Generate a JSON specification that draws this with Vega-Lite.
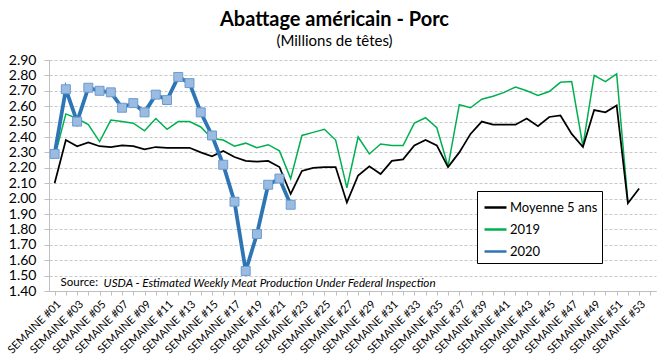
{
  "$schema": "https://vega.github.io/schema/vega-lite/v6.json",
  "width": 607,
  "height": 231,
  "autosize": {"type": "none"},
  "padding": {"left": 49, "top": 60, "right": 12, "bottom": 73},
  "background": "white",
  "title": {
    "text": "Abattage américain - Porc",
    "subtitle": "(Millions de têtes)",
    "anchor": "middle",
    "dx": -18,
    "font": "Lato",
    "fontSize": 20,
    "fontWeight": "bold",
    "color": "#000000",
    "subtitleFont": "Lato",
    "subtitleFontSize": 15,
    "subtitleColor": "#000000",
    "subtitlePadding": 4,
    "offset": 4
  },
  "config": {"view": {"stroke": null}, "font": "Lato"},
  "datasets": {
    "rows": [
      {"week": "SEMAINE #01", "series": "Moyenne 5 ans", "value": 2.10},
      {"week": "SEMAINE #02", "series": "Moyenne 5 ans", "value": 2.38},
      {"week": "SEMAINE #03", "series": "Moyenne 5 ans", "value": 2.34},
      {"week": "SEMAINE #04", "series": "Moyenne 5 ans", "value": 2.365},
      {"week": "SEMAINE #05", "series": "Moyenne 5 ans", "value": 2.34},
      {"week": "SEMAINE #06", "series": "Moyenne 5 ans", "value": 2.335},
      {"week": "SEMAINE #07", "series": "Moyenne 5 ans", "value": 2.345},
      {"week": "SEMAINE #08", "series": "Moyenne 5 ans", "value": 2.34},
      {"week": "SEMAINE #09", "series": "Moyenne 5 ans", "value": 2.32},
      {"week": "SEMAINE #10", "series": "Moyenne 5 ans", "value": 2.335},
      {"week": "SEMAINE #11", "series": "Moyenne 5 ans", "value": 2.33},
      {"week": "SEMAINE #12", "series": "Moyenne 5 ans", "value": 2.33},
      {"week": "SEMAINE #13", "series": "Moyenne 5 ans", "value": 2.33},
      {"week": "SEMAINE #14", "series": "Moyenne 5 ans", "value": 2.30},
      {"week": "SEMAINE #15", "series": "Moyenne 5 ans", "value": 2.275},
      {"week": "SEMAINE #16", "series": "Moyenne 5 ans", "value": 2.31},
      {"week": "SEMAINE #17", "series": "Moyenne 5 ans", "value": 2.27},
      {"week": "SEMAINE #18", "series": "Moyenne 5 ans", "value": 2.245},
      {"week": "SEMAINE #19", "series": "Moyenne 5 ans", "value": 2.24},
      {"week": "SEMAINE #20", "series": "Moyenne 5 ans", "value": 2.245},
      {"week": "SEMAINE #21", "series": "Moyenne 5 ans", "value": 2.205},
      {"week": "SEMAINE #22", "series": "Moyenne 5 ans", "value": 2.03},
      {"week": "SEMAINE #23", "series": "Moyenne 5 ans", "value": 2.18},
      {"week": "SEMAINE #24", "series": "Moyenne 5 ans", "value": 2.20},
      {"week": "SEMAINE #25", "series": "Moyenne 5 ans", "value": 2.205},
      {"week": "SEMAINE #26", "series": "Moyenne 5 ans", "value": 2.205},
      {"week": "SEMAINE #27", "series": "Moyenne 5 ans", "value": 1.975},
      {"week": "SEMAINE #28", "series": "Moyenne 5 ans", "value": 2.15},
      {"week": "SEMAINE #29", "series": "Moyenne 5 ans", "value": 2.21},
      {"week": "SEMAINE #30", "series": "Moyenne 5 ans", "value": 2.16},
      {"week": "SEMAINE #31", "series": "Moyenne 5 ans", "value": 2.245},
      {"week": "SEMAINE #32", "series": "Moyenne 5 ans", "value": 2.255},
      {"week": "SEMAINE #33", "series": "Moyenne 5 ans", "value": 2.345},
      {"week": "SEMAINE #34", "series": "Moyenne 5 ans", "value": 2.38},
      {"week": "SEMAINE #35", "series": "Moyenne 5 ans", "value": 2.345},
      {"week": "SEMAINE #36", "series": "Moyenne 5 ans", "value": 2.205},
      {"week": "SEMAINE #37", "series": "Moyenne 5 ans", "value": 2.30},
      {"week": "SEMAINE #38", "series": "Moyenne 5 ans", "value": 2.42},
      {"week": "SEMAINE #39", "series": "Moyenne 5 ans", "value": 2.50},
      {"week": "SEMAINE #40", "series": "Moyenne 5 ans", "value": 2.48},
      {"week": "SEMAINE #41", "series": "Moyenne 5 ans", "value": 2.48},
      {"week": "SEMAINE #42", "series": "Moyenne 5 ans", "value": 2.48},
      {"week": "SEMAINE #43", "series": "Moyenne 5 ans", "value": 2.52},
      {"week": "SEMAINE #44", "series": "Moyenne 5 ans", "value": 2.47},
      {"week": "SEMAINE #45", "series": "Moyenne 5 ans", "value": 2.53},
      {"week": "SEMAINE #46", "series": "Moyenne 5 ans", "value": 2.54},
      {"week": "SEMAINE #47", "series": "Moyenne 5 ans", "value": 2.42},
      {"week": "SEMAINE #48", "series": "Moyenne 5 ans", "value": 2.335},
      {"week": "SEMAINE #49", "series": "Moyenne 5 ans", "value": 2.575},
      {"week": "SEMAINE #50", "series": "Moyenne 5 ans", "value": 2.56},
      {"week": "SEMAINE #51", "series": "Moyenne 5 ans", "value": 2.605},
      {"week": "SEMAINE #52", "series": "Moyenne 5 ans", "value": 1.97},
      {"week": "SEMAINE #53", "series": "Moyenne 5 ans", "value": 2.065},
      {"week": "SEMAINE #01", "series": "2019", "value": 2.27},
      {"week": "SEMAINE #02", "series": "2019", "value": 2.55},
      {"week": "SEMAINE #03", "series": "2019", "value": 2.52},
      {"week": "SEMAINE #04", "series": "2019", "value": 2.48},
      {"week": "SEMAINE #05", "series": "2019", "value": 2.37},
      {"week": "SEMAINE #06", "series": "2019", "value": 2.51},
      {"week": "SEMAINE #07", "series": "2019", "value": 2.50},
      {"week": "SEMAINE #08", "series": "2019", "value": 2.49},
      {"week": "SEMAINE #09", "series": "2019", "value": 2.44},
      {"week": "SEMAINE #10", "series": "2019", "value": 2.52},
      {"week": "SEMAINE #11", "series": "2019", "value": 2.45},
      {"week": "SEMAINE #12", "series": "2019", "value": 2.50},
      {"week": "SEMAINE #13", "series": "2019", "value": 2.50},
      {"week": "SEMAINE #14", "series": "2019", "value": 2.465},
      {"week": "SEMAINE #15", "series": "2019", "value": 2.39},
      {"week": "SEMAINE #16", "series": "2019", "value": 2.38},
      {"week": "SEMAINE #17", "series": "2019", "value": 2.34},
      {"week": "SEMAINE #18", "series": "2019", "value": 2.36},
      {"week": "SEMAINE #19", "series": "2019", "value": 2.33},
      {"week": "SEMAINE #20", "series": "2019", "value": 2.35},
      {"week": "SEMAINE #21", "series": "2019", "value": 2.31},
      {"week": "SEMAINE #22", "series": "2019", "value": 2.13},
      {"week": "SEMAINE #23", "series": "2019", "value": 2.41},
      {"week": "SEMAINE #24", "series": "2019", "value": 2.43},
      {"week": "SEMAINE #25", "series": "2019", "value": 2.45},
      {"week": "SEMAINE #26", "series": "2019", "value": 2.38},
      {"week": "SEMAINE #27", "series": "2019", "value": 2.07},
      {"week": "SEMAINE #28", "series": "2019", "value": 2.40},
      {"week": "SEMAINE #29", "series": "2019", "value": 2.29},
      {"week": "SEMAINE #30", "series": "2019", "value": 2.355},
      {"week": "SEMAINE #31", "series": "2019", "value": 2.345},
      {"week": "SEMAINE #32", "series": "2019", "value": 2.345},
      {"week": "SEMAINE #33", "series": "2019", "value": 2.49},
      {"week": "SEMAINE #34", "series": "2019", "value": 2.525},
      {"week": "SEMAINE #35", "series": "2019", "value": 2.46},
      {"week": "SEMAINE #36", "series": "2019", "value": 2.21},
      {"week": "SEMAINE #37", "series": "2019", "value": 2.61},
      {"week": "SEMAINE #38", "series": "2019", "value": 2.59},
      {"week": "SEMAINE #39", "series": "2019", "value": 2.645},
      {"week": "SEMAINE #40", "series": "2019", "value": 2.665},
      {"week": "SEMAINE #41", "series": "2019", "value": 2.69},
      {"week": "SEMAINE #42", "series": "2019", "value": 2.725},
      {"week": "SEMAINE #43", "series": "2019", "value": 2.70},
      {"week": "SEMAINE #44", "series": "2019", "value": 2.67},
      {"week": "SEMAINE #45", "series": "2019", "value": 2.695},
      {"week": "SEMAINE #46", "series": "2019", "value": 2.755},
      {"week": "SEMAINE #47", "series": "2019", "value": 2.76},
      {"week": "SEMAINE #48", "series": "2019", "value": 2.34},
      {"week": "SEMAINE #49", "series": "2019", "value": 2.80},
      {"week": "SEMAINE #50", "series": "2019", "value": 2.76},
      {"week": "SEMAINE #51", "series": "2019", "value": 2.81},
      {"week": "SEMAINE #52", "series": "2019", "value": 1.98},
      {"week": "SEMAINE #01", "series": "2020", "value": 2.29},
      {"week": "SEMAINE #02", "series": "2020", "value": 2.71},
      {"week": "SEMAINE #03", "series": "2020", "value": 2.50},
      {"week": "SEMAINE #04", "series": "2020", "value": 2.72},
      {"week": "SEMAINE #05", "series": "2020", "value": 2.70},
      {"week": "SEMAINE #06", "series": "2020", "value": 2.69},
      {"week": "SEMAINE #07", "series": "2020", "value": 2.59},
      {"week": "SEMAINE #08", "series": "2020", "value": 2.62},
      {"week": "SEMAINE #09", "series": "2020", "value": 2.56},
      {"week": "SEMAINE #10", "series": "2020", "value": 2.675},
      {"week": "SEMAINE #11", "series": "2020", "value": 2.64},
      {"week": "SEMAINE #12", "series": "2020", "value": 2.79},
      {"week": "SEMAINE #13", "series": "2020", "value": 2.75},
      {"week": "SEMAINE #14", "series": "2020", "value": 2.56},
      {"week": "SEMAINE #15", "series": "2020", "value": 2.41},
      {"week": "SEMAINE #16", "series": "2020", "value": 2.22},
      {"week": "SEMAINE #17", "series": "2020", "value": 1.98},
      {"week": "SEMAINE #18", "series": "2020", "value": 1.53},
      {"week": "SEMAINE #19", "series": "2020", "value": 1.77},
      {"week": "SEMAINE #20", "series": "2020", "value": 2.09},
      {"week": "SEMAINE #21", "series": "2020", "value": 2.13},
      {"week": "SEMAINE #22", "series": "2020", "value": 1.96}
    ]
  },
  "data": {"name": "rows"},
  "encoding": {
    "x": {
      "field": "week",
      "type": "nominal",
      "scale": {
        "type": "point",
        "padding": 0.5,
        "domain": ["SEMAINE #01","SEMAINE #02","SEMAINE #03","SEMAINE #04","SEMAINE #05","SEMAINE #06","SEMAINE #07","SEMAINE #08","SEMAINE #09","SEMAINE #10","SEMAINE #11","SEMAINE #12","SEMAINE #13","SEMAINE #14","SEMAINE #15","SEMAINE #16","SEMAINE #17","SEMAINE #18","SEMAINE #19","SEMAINE #20","SEMAINE #21","SEMAINE #22","SEMAINE #23","SEMAINE #24","SEMAINE #25","SEMAINE #26","SEMAINE #27","SEMAINE #28","SEMAINE #29","SEMAINE #30","SEMAINE #31","SEMAINE #32","SEMAINE #33","SEMAINE #34","SEMAINE #35","SEMAINE #36","SEMAINE #37","SEMAINE #38","SEMAINE #39","SEMAINE #40","SEMAINE #41","SEMAINE #42","SEMAINE #43","SEMAINE #44","SEMAINE #45","SEMAINE #46","SEMAINE #47","SEMAINE #48","SEMAINE #49","SEMAINE #50","SEMAINE #51","SEMAINE #52","SEMAINE #53","SEMAINE #54"]
      },
      "axis": {
        "title": null,
        "labelAngle": -45,
        "labelExpr": "toNumber(slice(datum.value, 9)) % 2 === 1 ? datum.value : ''",
        "labelOverlap": false,
        "tickSize": 4,
        "tickColor": "#BFBFBF",
        "domainColor": "#BFBFBF",
        "labelFont": "Lato",
        "labelFontSize": 11,
        "labelColor": "#000000",
        "labelPadding": 3,
        "grid": false
      }
    },
    "y": {
      "field": "value",
      "type": "quantitative",
      "scale": {"domain": [1.4, 2.9], "nice": false, "zero": false},
      "axis": {
        "title": null,
        "values": [1.4, 1.5, 1.6, 1.7, 1.8, 1.9, 2.0, 2.1, 2.2, 2.3, 2.4, 2.5, 2.6, 2.7, 2.8, 2.9],
        "format": ".2f",
        "grid": true,
        "gridDash": [3, 2],
        "gridColor": "#C8C8C8",
        "domainColor": "#BFBFBF",
        "tickColor": "#BFBFBF",
        "tickSize": 5,
        "labelPadding": 8,
        "labelFont": "Lato",
        "labelFontSize": 14,
        "labelColor": "#000000"
      }
    },
    "color": {
      "field": "series",
      "type": "nominal",
      "scale": {"domain": ["Moyenne 5 ans", "2019", "2020"], "range": ["#000000", "#00B050", "#2E75B6"]},
      "legend": {
        "title": null,
        "orient": "none",
        "legendX": 428,
        "legendY": 131,
        "strokeColor": "#000000",
        "fillColor": "#FFFFFF",
        "padding": 4,
        "symbolType": "stroke",
        "symbolSize": 484,
        "symbolStrokeWidth": 2.5,
        "rowPadding": 2,
        "labelFont": "Lato",
        "labelFontSize": 13,
        "labelColor": "#000000",
        "labelOffset": 2,
        "symbolOffset": 2
      }
    }
  },
  "layer": [
    {
      "transform": [{"filter": "datum.series === '2019'"}],
      "mark": {"type": "line", "strokeWidth": 1.5}
    },
    {
      "transform": [{"filter": "datum.series === 'Moyenne 5 ans'"}],
      "mark": {"type": "line", "strokeWidth": 1.75}
    },
    {
      "transform": [{"filter": "datum.series === '2020'"}],
      "mark": {"type": "line", "strokeWidth": 3.75}
    },
    {
      "transform": [{"filter": "datum.series === '2020'"}],
      "mark": {"type": "point", "shape": "square", "filled": true, "size": 80, "fill": "#9BBBE0", "stroke": "#6A9BD1", "strokeWidth": 1, "opacity": 1}
    },
    {
      "transform": [{"filter": "datum.series === '2020' && datum.week === 'SEMAINE #01'"}],
      "mark": {"type": "text", "align": "left", "baseline": "middle", "dx": 6, "fontSize": 11.5, "font": "Lato", "fill": "#000000"},
      "encoding": {"y": {"datum": 1.455}, "text": {"value": "Source:"}, "color": {"value": "#000000"}}
    },
    {
      "transform": [{"filter": "datum.series === '2020' && datum.week === 'SEMAINE #01'"}],
      "mark": {"type": "text", "align": "left", "baseline": "middle", "dx": 49, "fontSize": 11.7, "font": "Lato", "fontStyle": "italic", "fill": "#000000"},
      "encoding": {"y": {"datum": 1.455}, "text": {"value": "USDA - Estimated Weekly Meat Production Under Federal Inspection"}, "color": {"value": "#000000"}}
    }
  ]
}
